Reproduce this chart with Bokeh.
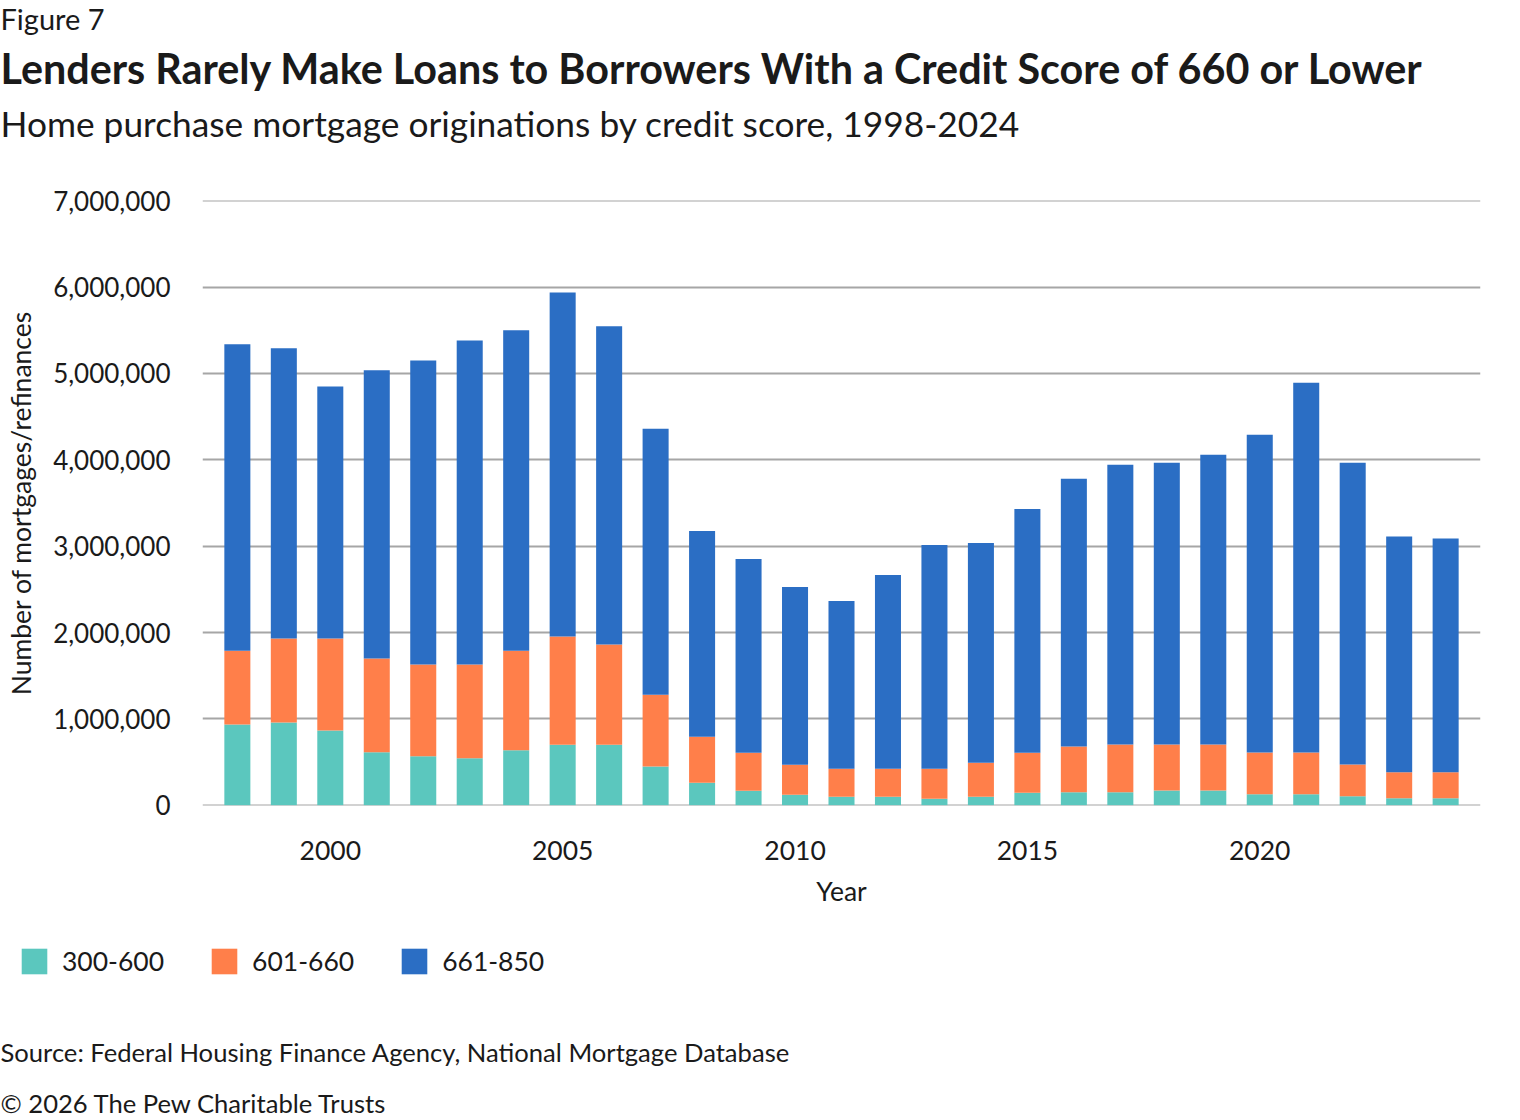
from bokeh.plotting import figure
from bokeh.models import ColumnDataSource, FixedTicker, NumeralTickFormatter, Label, Legend, LegendItem, Range1d
from bokeh.embed import file_html
from bokeh.resources import INLINE

years = list(range(1998, 2025))
score_300_600 = [936000, 960000, 866000, 615000, 568000, 544000, 638000, 701000, 701000, 449000,
                 262000, 170000, 123000, 100000, 100000, 77000, 100000, 146000, 150000, 150000,
                 173000, 173000, 127000, 127000, 104000, 81000, 81000]
score_601_660 = [854000, 971000, 1065000, 1085000, 1061000, 1085000, 1152000, 1254000, 1160000, 831000,
                 532000, 439000, 347000, 324000, 324000, 347000, 393000, 463000, 532000, 555000,
                 532000, 532000, 486000, 486000, 370000, 301000, 301000]
score_661_850 = [3549000, 3361000, 2918000, 3337000, 3522000, 3753000, 3709000, 3983000, 3685000, 3079000,
                 2381000, 2243000, 2058000, 1942000, 2243000, 2589000, 2544000, 2821000, 3100000, 3239000,
                 3262000, 3354000, 3678000, 4279000, 3493000, 2729000, 2706000]
series_names = ["300-600", "601-660", "661-850"]
series_colors = ["#5BC7BE", "#FF7F4A", "#2B6EC4"]
y_ticks = [0, 1000000, 2000000, 3000000, 4000000, 5000000, 6000000, 7000000]
x_ticks = [2000, 2005, 2010, 2015, 2020]

FONT = "Lato"
TXT = "#1a1a1a"
W = 1520
HEAD_H = 175           # page rows 0..175
MAIN_TOP, MAIN_BOT = 175, 925
FOOT_H = 1120 - MAIN_BOT
FL, FR, FT, FB = 202, 1480, 200, 805


def text_fig(height, top):
    f = figure(width=W, height=height, output_backend="svg", toolbar_location=None, title=None,
               x_range=Range1d(0, W), y_range=Range1d(top + height, top),
               x_axis_location=None, y_axis_location=None, min_border=0)
    f.outline_line_color = None
    f.grid.visible = False
    f.background_fill_color = "white"
    f.border_fill_color = "white"
    return f


def lab(f, text, X, Y, size, bold=False, align="left", baseline="alphabetic"):
    f.add_layout(Label(x=X, y=Y, text=text, text_font=FONT, text_font_size=size, text_color=TXT,
                       text_font_style="bold" if bold else "normal",
                       text_align=align, text_baseline=baseline))


src = ColumnDataSource(dict(year=years, a=score_300_600, b=score_601_660, c=score_661_850))

# ---- header ----
head = text_fig(HEAD_H, 0)
lab(head, "Figure 7", 0, 18, "29px")
lab(head, "Lenders Rarely Make Loans to Borrowers With a Credit Score of 660 or Lower", 0, 67, "41.3px", bold=True)
lab(head, "Home purchase mortgage originations by credit score, 1998-2024", 0, 123, "35.3px")

# ---- main chart ----
p = figure(width=W, height=MAIN_BOT - MAIN_TOP, output_backend="svg", toolbar_location=None, title=None,
           x_range=Range1d(1997.25, 2024.75), y_range=Range1d(-2000, 7002000),
           min_border_left=FL, min_border_right=W - FR,
           min_border_top=FT - MAIN_TOP, min_border_bottom=MAIN_BOT - FB)
p.outline_line_color = None
p.background_fill_color = "white"
p.border_fill_color = "white"

p.vbar_stack(["a", "b", "c"], x="year", width=0.56, source=src,
             color=series_colors, line_color=None)

p.xgrid.grid_line_color = None
p.ygrid.grid_line_color = "#a6a6a6"
p.ygrid.grid_line_width = 2
p.ygrid.ticker = FixedTicker(ticks=y_ticks)

p.yaxis.ticker = FixedTicker(ticks=y_ticks)
p.yaxis.formatter = NumeralTickFormatter(format="0,0")
p.yaxis.axis_line_color = None
p.yaxis.major_tick_line_color = None
p.yaxis.minor_tick_line_color = None
p.yaxis.major_tick_out = 0
p.yaxis.major_label_standoff = 32
p.yaxis.major_label_text_font = FONT
p.yaxis.major_label_text_font_size = "26px"
p.yaxis.major_label_text_color = TXT
p.yaxis.axis_label = "Number of mortgages/refinances"
p.yaxis.axis_label_text_font = FONT
p.yaxis.axis_label_text_font_size = "26.5px"
p.yaxis.axis_label_text_font_style = "normal"
p.yaxis.axis_label_text_color = TXT
p.yaxis.axis_label_standoff = 13

p.xaxis.ticker = FixedTicker(ticks=x_ticks)
p.xaxis.axis_line_color = None
p.xaxis.major_tick_line_color = None
p.xaxis.minor_tick_line_color = None
p.xaxis.major_tick_out = 0
p.xaxis.major_label_standoff = 35
p.xaxis.major_label_text_font = FONT
p.xaxis.major_label_text_font_size = "26.5px"
p.xaxis.major_label_text_color = TXT
p.xaxis.axis_label = "Year"
p.xaxis.axis_label_text_font = FONT
p.xaxis.axis_label_text_font_size = "26.5px"
p.xaxis.axis_label_text_font_style = "normal"
p.xaxis.axis_label_text_color = TXT
p.xaxis.axis_label_standoff = 12

# ---- footer: legend + notes ----
foot = text_fig(FOOT_H, MAIN_BOT)
leg_rs = foot.vbar_stack(["a", "b", "c"], x="year", width=0.56, source=src,
                         color=series_colors, line_color=None)
for r in leg_rs:
    r.visible = False
legend = Legend(items=[LegendItem(label=n, renderers=[r]) for n, r in zip(series_names, leg_rs)],
                orientation="horizontal", location=(18, 143))
legend.glyph_width = 32
legend.glyph_height = 32
legend.label_standoff = 12
legend.spacing = 44
legend.padding = 0
legend.margin = 0
legend.border_line_color = None
legend.background_fill_alpha = 0
legend.inactive_fill_alpha = 0
legend.click_policy = "none"
legend.label_text_font = FONT
legend.label_text_font_size = "26.5px"
legend.label_text_color = TXT
legend.label_height = 32
foot.add_layout(legend, "center")

lab(foot, "Source: Federal Housing Finance Agency, National Mortgage Database", 0, 1051, "25.6px")
lab(foot, "\u00a9 2026 The Pew Charitable Trusts", 0, 1102, "25.6px")

html = file_html([head, p, foot], INLINE)
html = html.replace("<head>", "<head><style>html,body{margin:0;padding:0;overflow:hidden;line-height:0;}</style>", 1)
open("out.html", "w").write(html)
